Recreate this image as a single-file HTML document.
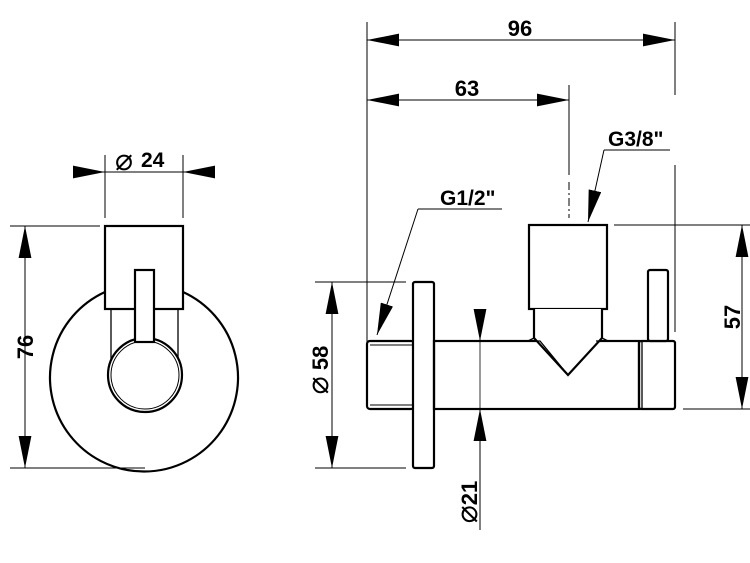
<!DOCTYPE html>
<html><head><meta charset="utf-8"><style>
html,body{margin:0;padding:0;background:#fff;}
svg{display:block;}
text{font-family:"Liberation Sans","DejaVu Sans",sans-serif;font-weight:bold;fill:#000;}
.d{font-family:"DejaVu Sans",sans-serif;font-weight:normal;font-size:30px;}
</style></head><body>
<svg width="750" height="563" viewBox="0 0 750 563" xmlns="http://www.w3.org/2000/svg">
<defs>
<marker id="a" viewBox="0 0 10 4" refX="10" refY="2" markerWidth="32" markerHeight="12.8" markerUnits="userSpaceOnUse" orient="auto"><path d="M0,0 L10,2 L0,4 Z" fill="#000"/></marker>
</defs>
<g stroke="#000" fill="none">
<g stroke-width="1">
<line x1="105" y1="155" x2="105" y2="218"/>
<line x1="183" y1="155" x2="183" y2="218"/>
<line x1="73" y1="172" x2="105" y2="172" marker-end="url(#a)"/>
<line x1="215" y1="172" x2="183" y2="172" marker-end="url(#a)"/>
<line x1="105" y1="172" x2="183" y2="172"/>
<line x1="10" y1="226" x2="100" y2="226"/>
<line x1="10" y1="468" x2="145" y2="468"/>
<line x1="25" y1="300" x2="25" y2="226" marker-end="url(#a)"/>
<line x1="25" y1="400" x2="25" y2="468" marker-end="url(#a)"/>
<line x1="25" y1="226" x2="25" y2="468"/>
</g>
<g stroke-width="2.2">
<path d="M105,292 A94,94 0 1 0 183,292"/>
<rect x="105" y="226" width="78" height="83" fill="#fff"/>
<line x1="111" y1="309" x2="111" y2="360" stroke-width="1.3"/>
<line x1="178" y1="309" x2="178" y2="360" stroke-width="1.3"/>
<circle cx="145" cy="375" r="37" fill="#fff"/>
<circle cx="145" cy="375" r="34" stroke-width="1"/>
<rect x="135" y="270" width="19" height="72" fill="#fff"/>
</g>
<g stroke-width="1">
<line x1="367" y1="22" x2="367" y2="345"/>
<line x1="675" y1="22" x2="675" y2="95"/>
<line x1="675" y1="165" x2="675" y2="332"/>
<line x1="569" y1="85" x2="569" y2="175"/>
<line x1="569" y1="182" x2="569" y2="218" stroke-dasharray="8,3,2,3"/>
<line x1="367" y1="40" x2="675" y2="40"/>
<line x1="400" y1="40" x2="367" y2="40" marker-end="url(#a)"/>
<line x1="640" y1="40" x2="675" y2="40" marker-end="url(#a)"/>
<line x1="367" y1="100" x2="569" y2="100"/>
<line x1="400" y1="100" x2="367" y2="100" marker-end="url(#a)"/>
<line x1="535" y1="100" x2="569" y2="100" marker-end="url(#a)"/>
<line x1="604" y1="150" x2="670" y2="150"/>
<line x1="604" y1="150" x2="588" y2="222" marker-end="url(#a)"/>
<line x1="418" y1="209" x2="502" y2="209"/>
<line x1="418" y1="209" x2="377" y2="335" marker-end="url(#a)"/>
<line x1="614" y1="225" x2="750" y2="225"/>
<line x1="683" y1="409" x2="750" y2="409"/>
<line x1="742" y1="225" x2="742" y2="409"/>
<line x1="742" y1="260" x2="742" y2="225" marker-end="url(#a)"/>
<line x1="742" y1="375" x2="742" y2="409" marker-end="url(#a)"/>
<line x1="315" y1="282" x2="406" y2="282"/>
<line x1="315" y1="468" x2="406" y2="468"/>
<line x1="332" y1="282" x2="332" y2="468"/>
<line x1="332" y1="315" x2="332" y2="282" marker-end="url(#a)"/>
<line x1="332" y1="435" x2="332" y2="468" marker-end="url(#a)"/>
<line x1="480" y1="309" x2="480" y2="341" marker-end="url(#a)"/>
<line x1="480" y1="441" x2="480" y2="409" marker-end="url(#a)"/>
<line x1="480" y1="409" x2="480" y2="530"/>
<line x1="480" y1="341" x2="480" y2="409" stroke-width="0.8"/>
</g>
<g stroke-width="2.2">
<rect x="367" y="341" width="47" height="68" rx="3"/>
<line x1="370" y1="345" x2="412" y2="345" stroke-width="1"/>
<line x1="370" y1="405" x2="412" y2="405" stroke-width="1"/>
<rect x="413" y="282" width="21" height="186" rx="2" fill="#fff"/>
<rect x="434" y="341" width="205" height="68"/>
<rect x="639" y="341" width="36" height="68" rx="2"/>
<line x1="642" y1="341" x2="642" y2="409" stroke-width="1.3"/>
<rect x="648" y="270" width="20" height="71" rx="2" fill="#fff"/>
<rect x="529" y="225" width="78" height="84" fill="#fff"/>
<path d="M534,309 L534,338 L568,375 L602,338 L602,309" fill="#fff"/>
<path d="M528,341 L540,341 L568,375 M596,341 L608,341" stroke-width="1.3"/>
<path d="M534,338 L528,341 M602,338 L608,341" stroke-width="1.3"/>
</g>
</g>
<text x="115" y="170" font-size="22" class="d">⌀</text>
<text x="141" y="167" font-size="21">24</text>
<text transform="translate(33,347) rotate(-90)" font-size="22" text-anchor="middle">76</text>
<text x="520" y="36" font-size="22" text-anchor="middle">96</text>
<text x="467" y="96" font-size="22" text-anchor="middle">63</text>
<text x="608" y="146" font-size="21">G3/8"</text>
<text x="440" y="205" font-size="21">G1/2"</text>
<text transform="translate(740,317) rotate(-90)" font-size="22" text-anchor="middle">57</text>
<text transform="translate(328,370) rotate(-90)" font-size="22" text-anchor="middle"><tspan class="d">⌀</tspan> 58</text>
<text transform="translate(477,502) rotate(-90)" font-size="22" text-anchor="middle"><tspan class="d">⌀</tspan>21</text>
</svg>
</body></html>
